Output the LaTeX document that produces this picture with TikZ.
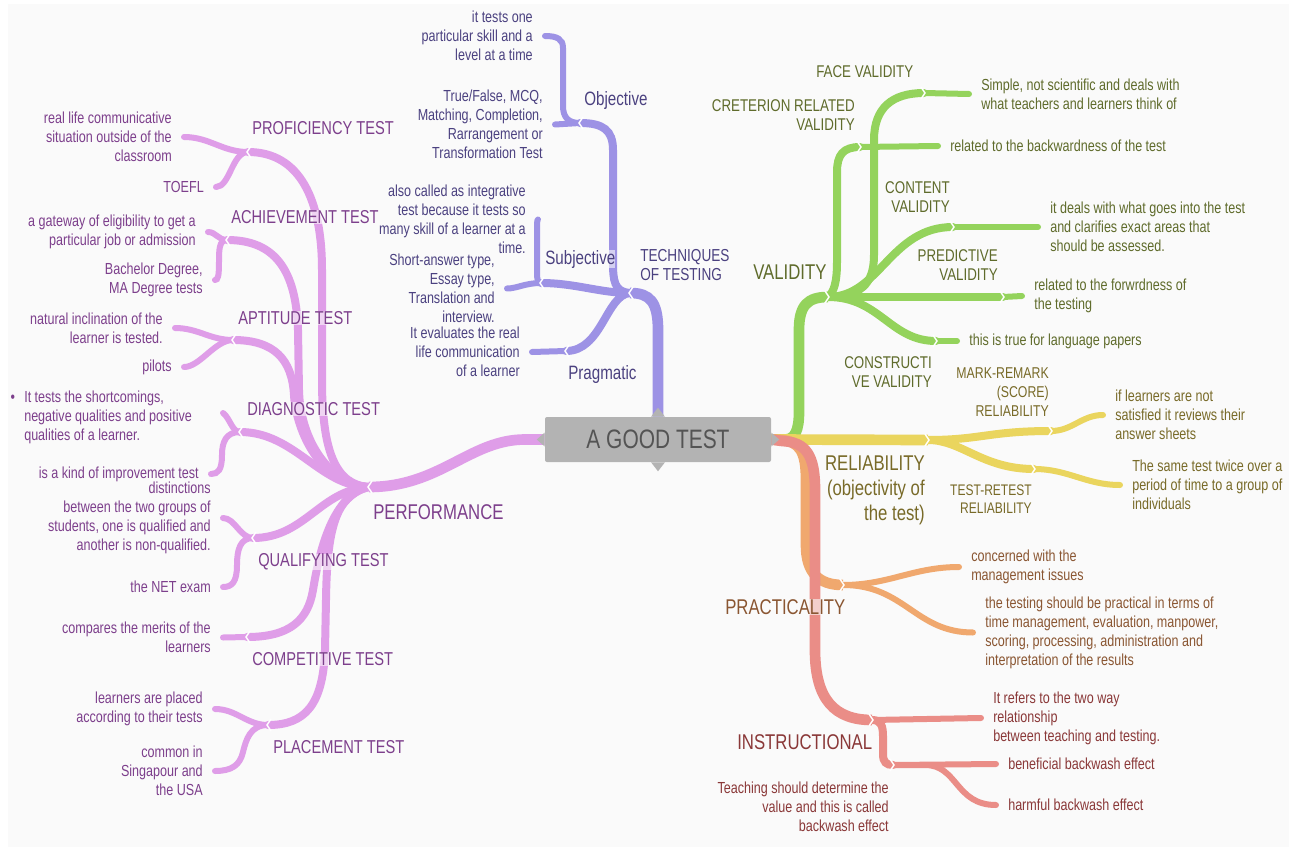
\documentclass[tikz,border=0pt]{standalone}
\usepackage{fontspec}
\setmainfont{Liberation Sans}[FakeStretch=0.785]

\definecolor{bgcol}{HTML}{FAFAFA}
\definecolor{rootgray}{HTML}{B3B3B3}
\definecolor{roottxt}{HTML}{545454}
\definecolor{techcol}{HTML}{9D92E5}
\definecolor{techtxt}{HTML}{4B4180}
\definecolor{perfcol}{HTML}{DF9DE8}
\definecolor{perftxt}{HTML}{7D3F8C}
\definecolor{validcol}{HTML}{94D35C}
\definecolor{validtxt}{HTML}{5F6B2B}
\definecolor{relcol}{HTML}{EAD55E}
\definecolor{reltxt}{HTML}{786A28}
\definecolor{praccol}{HTML}{F0A86E}
\definecolor{practxt}{HTML}{8A5632}
\definecolor{instcol}{HTML}{EA8D87}
\definecolor{insttxt}{HTML}{8A3838}

\pgfdeclarelayer{backdrop}
\pgfdeclarelayer{branches}
\pgfsetlayers{backdrop,branches,main}

\tikzset{
  trunk/.style={line width=8pt},
  twig/.style={line width=6pt, line cap=round},
  leaf/.style={line width=4.5pt, line cap=round},
  notch/.style={draw=white, line width=1.1pt},
  halo/.style={fill=bgcol, fill opacity=0.6, text opacity=1},
  note/.style={inner sep=0pt, font=\fontsize{12}{14.25}\selectfont},
  lnote/.style={note, anchor=east, align=right},
  rnote/.style={note, anchor=west, align=left},
  lab/.style={halo, inner sep=0pt, anchor=west, align=left, font=\fontsize{14}{14.25}\selectfont},
  vlab/.style={halo, inner sep=0pt, anchor=east, align=right, font=\fontsize{12.75}{14.25}\selectfont},
  biglab/.style={halo, inner sep=0pt, anchor=west, align=left, font=\fontsize{16}{18.75}\selectfont},
  rootbox/.style={fill=rootgray, rounded corners=1.5pt, inner sep=0pt,
    minimum width=169.5pt, minimum height=33.75pt, text=roottxt,
    font=\fontsize{20}{24}\selectfont},
}

\begin{document}
\begin{tikzpicture}[x=0.75pt,y=-0.75pt]
\begin{pgfonlayer}{backdrop}
\fill[white] (0,0) rectangle (1293,853);
\fill[bgcol] (8,4) rectangle (1289,847);
\end{pgfonlayer}
\useasboundingbox (0,0) rectangle (1293,853);

\node[rootbox] (root) at (658,439.5) {A GOOD TEST};

% techniques of testing
\node[lab, text=techtxt, font=\fontsize{13}{14.25}\selectfont] (techlab) at (640,265) {TECHNIQUES\\OF TESTING};
\node[lab, text=techtxt, font=\fontsize{14.5}{16}\selectfont] (objlab) at (584,101) {Objective};
\node[lab, text=techtxt, font=\fontsize{14.5}{16}\selectfont] (subjlab) at (545,259) {Subjective};
\node[lab, text=techtxt, font=\fontsize{14.5}{16}\selectfont] (praglab) at (568,374) {Pragmatic};
\node[lnote, techtxt] (obj1) at (533,36) {it tests one\\particular skill and a\\level at a time};
\node[lnote, techtxt] (obj2) at (543,124.5) {True/False, MCQ,\\Matching, Completion,\\Rarrangement or\\Transformation Test};
\node[lnote, techtxt] (sub1) at (526,219.5) {also called as integrative\\test because it tests so\\many skill of a learner at a\\time.};
\node[lnote, techtxt] (sub2) at (495,288.5) {Short-answer type,\\Essay type,\\Translation and\\interview.};
\node[lnote, techtxt] (prag1) at (520,352) {It evaluates the real\\life communication\\of a learner};

% performance
\node[biglab, text=perftxt] (perflab) at (373,512) {PERFORMANCE};
\node[lab, text=perftxt] (proflab) at (252,128) {PROFICIENCY TEST};
\node[lab, text=perftxt] (achlab) at (231,217) {ACHIEVEMENT TEST};
\node[lab, text=perftxt] (aptlab) at (238,318) {APTITUDE TEST};
\node[lab, text=perftxt] (diaglab) at (247,409) {DIAGNOSTIC TEST};
\node[lab, text=perftxt] (quallab) at (258,562) {QUALIFYING TEST};
\node[lab, text=perftxt] (complab) at (252,659) {COMPETITIVE TEST};
\node[lab, text=perftxt] (placelab) at (273,747) {PLACEMENT TEST};
\node[lnote, perftxt] (prof1) at (172,137) {real life communicative\\situation outside of the\\classroom};
\node[lnote, perftxt] (prof2) at (204,187) {TOEFL};
\node[lnote, perftxt] (ach1) at (196,232) {a gateway of eligibility to get a\\particular job or admission};
\node[lnote, perftxt] (ach2) at (203,280) {Bachelor Degree,\\MA Degree tests};
\node[lnote, perftxt] (apt1) at (163,328) {natural inclination of the\\learner is tested.};
\node[lnote, perftxt] (apt2) at (172,367) {pilots};
\node[rnote, perftxt] (diag1) at (24,417) {\llap{\textbullet\hspace{7pt}}It tests the shortcomings,\\negative qualities and positive\\qualities of a learner.};
\node[lnote, perftxt] (diag2) at (199,474) {is a kind of improvement test};
\node[lnote, perftxt] (qual1) at (211,518) {distinctions\\between the two groups of\\students, one is qualified and\\another is non-qualified.};
\node[lnote, perftxt] (qual2) at (211,587) {the NET exam};
\node[lnote, perftxt] (comp1) at (211,637.5) {compares the merits of the\\learners};
\node[lnote, perftxt] (place1) at (203,709) {learners are placed\\according to their tests};
\node[lnote, perftxt] (place2) at (203,771) {common in\\Singapour and\\the USA};

% validity
\node[biglab, text=validtxt] (validlab) at (753,272) {VALIDITY};
\node[lab, text=validtxt, font=\fontsize{12.75}{14.25}\selectfont] (facelab) at (816,72) {FACE VALIDITY};
\node[vlab, text=validtxt] (critlab) at (855,115) {CRETERION RELATED\\VALIDITY};
\node[vlab, text=validtxt] (contlab) at (950,197) {CONTENT\\VALIDITY};
\node[vlab, text=validtxt] (predlab) at (998,265) {PREDICTIVE\\VALIDITY};
\node[vlab, text=validtxt] (conslab) at (932,372) {CONSTRUCTI\\VE VALIDITY};
\node[rnote, validtxt] (face1) at (981,94) {Simple, not scientific and deals with\\what teachers and learners think of};
\node[rnote, validtxt] (crit1) at (950,146) {related to the backwardness of the test};
\node[rnote, validtxt] (cont1) at (1050,227) {it deals with what goes into the test\\and clarifies exact areas that\\should be assessed.};
\node[rnote, validtxt] (pred1) at (1034,296) {related to the forwrdness of\\the testing};
\node[rnote, validtxt] (cons1) at (969,341) {this is true for language papers};

% reliability
\node[biglab, text=reltxt, anchor=east, align=right] (rellab) at (925,490) {RELIABILITY\\(objectivity of\\the test)};
\node[vlab, text=reltxt, font=\fontsize{11.75}{14.25}\selectfont] (marklab) at (1049,392) {MARK-REMARK\\(SCORE)\\RELIABILITY};
\node[vlab, text=reltxt, font=\fontsize{11.5}{13.5}\selectfont] (testlab) at (1032,499) {TEST-RETEST\\RELIABILITY};
\node[rnote, reltxt] (mark1) at (1115,415) {if learners are not\\satisfied it reviews their\\answer sheets};
\node[rnote, reltxt] (test1) at (1132,485) {The same test twice over a\\period of time to a group of\\individuals};

% practicality
\node[biglab, text=practxt] (praclab) at (725,607) {PRACTICALITY};
\node[rnote, practxt] (prac1) at (971,567) {concerned with the\\management issues};
\node[rnote, practxt] (prac2) at (985,632.5) {the testing should be practical in terms of\\time management, evaluation, manpower,\\scoring, processing, administration and\\interpretation of the results};

% instructional
\node[biglab, text=insttxt] (instlab) at (737,742) {INSTRUCTIONAL};
\node[rnote, insttxt] (inst1) at (993,718) {It refers to the two way\\relationship\\between teaching and testing.};
\node[rnote, insttxt] (inst2) at (1008,764) {beneficial backwash effect};
\node[rnote, insttxt] (inst3) at (1008,805) {harmful backwash effect};
\node[lnote, insttxt] (inst4) at (889,807) {Teaching should determine the\\value and this is called\\backwash effect};

% hubs
\coordinate (techhub) at (630,293);
\coordinate (objhub) at (580,123);
\coordinate (subjhub) at (541,283);
\coordinate (praghub) at (566,351);
\coordinate (perfhub) at (369,487);
\coordinate (profhub) at (248,152);
\coordinate (achhub) at (227,240);
\coordinate (apthub) at (233,340);
\coordinate (diaghub) at (240,432);
\coordinate (diagtip) at (223,413);
\coordinate (qualhub) at (253,538);
\coordinate (comphub) at (247,637);
\coordinate (placehub) at (268,725);
\coordinate (validhub) at (828,297);
\coordinate (facehub) at (924,93);
\coordinate (crithub) at (860,147);
\coordinate (conthub) at (953,227);
\coordinate (predhub) at (1003,297);
\coordinate (conshub) at (936,341);
\coordinate (relhub) at (928,440);
\coordinate (markhub) at (1051,431);
\coordinate (testhub) at (1034,469);
\coordinate (prachub) at (843,585);
\coordinate (insthub) at (872,720);
\coordinate (insthubb) at (893,765);

\begin{pgfonlayer}{branches}
% techniques branch
\draw[trunk, techcol] (root.north) -- (658,330) .. controls (658,302) and (650,293) .. (techhub);
\draw[twig, techcol] (techhub) .. controls (614,292) and (613,280) .. (613,262) -- (613,150) .. controls (613,130) and (603,123) .. (objhub);
\draw[leaf, techcol] (objhub) .. controls (569,123) and (563,118) .. (563,106) -- (563,48) .. controls (563,39) and (557,36) .. ([xshift=9pt]obj1.east);
\draw[leaf, techcol] (objhub) -- ([xshift=9pt]obj2.east);
\draw[twig, techcol] (techhub) .. controls (600,293) and (575,283) .. (subjhub);
\draw[leaf, techcol] (subjhub) .. controls (537,283) and (537,278) .. (537,268) -- (537,230) .. controls (537,224) and (537,220) .. ([xshift=9pt]sub1.east);
\draw[leaf, techcol] (subjhub) .. controls (525,283) and (517,288.5) .. ([xshift=9pt]sub2.east);
\draw[twig, techcol] (techhub) .. controls (606,295) and (602,351) .. (praghub);
\draw[leaf, techcol] (praghub) -- ([xshift=9pt]prag1.east);

% performance branch
\draw[trunk, perfcol] (root.west) -- (525,439.5) .. controls (470,439.5) and (440,487) .. (perfhub);
\draw[twig, perfcol] (perfhub) .. controls (335,485) and (322,450) .. (322,380) -- (322,270) .. controls (322,200) and (300,152) .. (profhub);
\draw[twig, perfcol] (perfhub) .. controls (330,485) and (300,440) .. (299,390) -- (298,330) .. controls (296,270) and (275,240) .. (achhub);
\draw[twig, perfcol] (perfhub) .. controls (320,485) and (296,430) .. (294,395) .. controls (292,360) and (275,340) .. (apthub);
\draw[twig, perfcol] (perfhub) .. controls (320,487) and (295,432) .. (diaghub);
\draw[twig, perfcol] (perfhub) .. controls (320,490) and (305,538) .. (qualhub);
\draw[twig, perfcol] (perfhub) .. controls (330,495) and (318,560) .. (313,590) .. controls (308,620) and (290,637) .. (comphub);
\draw[twig, perfcol] (perfhub) .. controls (335,495) and (327,530) .. (326,600) -- (325,650) .. controls (323,705) and (305,725) .. (placehub);
\draw[leaf, perfcol] (profhub) to[out=180,in=0] ([xshift=9pt]prof1.east);
\draw[leaf, perfcol] (profhub) .. controls (232,152) and (230,187) .. ([xshift=9pt]prof2.east);
\draw[leaf, perfcol] (achhub) .. controls (218,240) and (216,232) .. ([xshift=9pt]ach1.east);
\draw[leaf, perfcol] (achhub) .. controls (219,240) and (219,250) .. (219,262) .. controls (219,276) and (218,280) .. ([xshift=9pt]ach2.east);
\draw[leaf, perfcol] (apthub) to[out=180,in=0] ([xshift=9pt]apt1.east);
\draw[leaf, perfcol] (apthub) .. controls (215,340) and (200,367) .. ([xshift=9pt]apt2.east);
\draw[leaf, perfcol] (diaghub) .. controls (232,432) and (230,418) .. (diagtip);
\draw[leaf, perfcol] (diaghub) .. controls (226,432) and (222,442) .. (222,455) .. controls (222,470) and (218,474) .. ([xshift=9pt]diag2.east);
\draw[leaf, perfcol] (qualhub) .. controls (240,538) and (235,518) .. ([xshift=9pt]qual1.east);
\draw[leaf, perfcol] (qualhub) .. controls (240,538) and (237,550) .. (237,565) .. controls (237,582) and (232,587) .. ([xshift=9pt]qual2.east);
\draw[leaf, perfcol] (comphub) -- ([xshift=9pt]comp1.east);
\draw[leaf, perfcol] (placehub) to[out=180,in=0] ([xshift=9pt]place1.east);
\draw[leaf, perfcol] (placehub) .. controls (250,725) and (246,740) .. (243,752) .. controls (240,765) and (232,771) .. ([xshift=9pt]place2.east);

% validity branch
\draw[trunk, validcol] (root.east) -- (785,439.5) .. controls (795,439.5) and (799,430) .. (799,412) -- (799,330) .. controls (799,305) and (808,297) .. (validhub);
\draw[twig, validcol] (validhub) .. controls (860,296) and (874,285) .. (874,255) -- (874,140) .. controls (874,108) and (892,93) .. (facehub);
\draw[leaf, validcol] (facehub) -- ([xshift=-9pt]face1.west);
\draw[twig, validcol] (validhub) .. controls (834,292) and (837,282) .. (837,262) -- (837,172) .. controls (837,155) and (843,147) .. (crithub);
\draw[leaf, validcol] (crithub) -- ([xshift=-9pt]crit1.west);
\draw[twig, validcol] (validhub) .. controls (880,297) and (890,227) .. (conthub);
\draw[leaf, validcol] (conthub) -- ([xshift=-9pt]cont1.west);
\draw[twig, validcol] (validhub) -- (predhub);
\draw[leaf, validcol] (predhub) -- ([xshift=-9pt]pred1.west);
\draw[twig, validcol] (validhub) .. controls (880,297) and (890,341) .. (conshub);
\draw[leaf, validcol] (conshub) -- ([xshift=-9pt]cons1.west);

% reliability branch
\draw[trunk, relcol] (root.east) -- (relhub);
\draw[twig, relcol] (relhub) .. controls (980,440) and (990,431) .. (markhub);
\draw[leaf, relcol] (markhub) to[out=0,in=180] ([xshift=-9pt]mark1.west);
\draw[twig, relcol] (relhub) .. controls (962,440) and (982,469) .. (testhub);
\draw[leaf, relcol] (testhub) to[out=0,in=180] ([xshift=-9pt]test1.west);

% practicality branch
\draw[trunk, praccol] (root.east) -- (780,440) .. controls (800,441) and (806,452) .. (806,480) -- (806,545) .. controls (806,572) and (818,585) .. (prachub);
\draw[leaf, praccol] (prachub) to[out=0,in=180] ([xshift=-9pt]prac1.west);
\draw[leaf, praccol] (prachub) .. controls (905,585) and (915,632.5) .. ([xshift=-9pt]prac2.west);

% instructional branch
\draw[trunk, instcol] (root.east) -- (782,441) .. controls (806,442) and (815,455) .. (815,490) -- (815,650) .. controls (815,700) and (835,720) .. (insthub);
\draw[leaf, instcol] (insthub) -- ([xshift=-9pt]inst1.west);
\draw[twig, instcol] (insthub) .. controls (881,720) and (883,726) .. (883,736) -- (883,754) .. controls (883,762) and (886,765) .. (insthubb);
\draw[leaf, instcol] (insthubb) -- ([xshift=-9pt]inst2.west);
\draw[leaf, instcol] (insthubb) -- (925,765) .. controls (958,765) and (955,805) .. ([xshift=-9pt]inst3.west);

% notches
\foreach \h in {validhub,facehub,crithub,conthub,predhub,conshub,relhub,markhub,testhub,prachub,insthub,insthubb}
  \draw[notch] (\h) ++(-3,-6) -- ++(4,6) -- ++(-4,6);
\foreach \h in {techhub,objhub,subjhub,praghub,perfhub,profhub,achhub,apthub,diaghub,qualhub,comphub,placehub}
  \draw[notch] (\h) ++(3,-6) -- ++(-4,6) -- ++(4,6);
\end{pgfonlayer}

\fill[rootgray] (root.north) ++(-7,0) -- ++(7,-9) -- ++(7,9) -- cycle;
\fill[rootgray] (root.south) ++(-7,0) -- ++(7,9) -- ++(7,-9) -- cycle;
\fill[rootgray] (root.west) ++(0,-7) -- ++(-8,7) -- ++(8,7) -- cycle;
\fill[rootgray] (root.east) ++(0,-7) -- ++(8,7) -- ++(-8,7) -- cycle;
\end{tikzpicture}
\end{document}
